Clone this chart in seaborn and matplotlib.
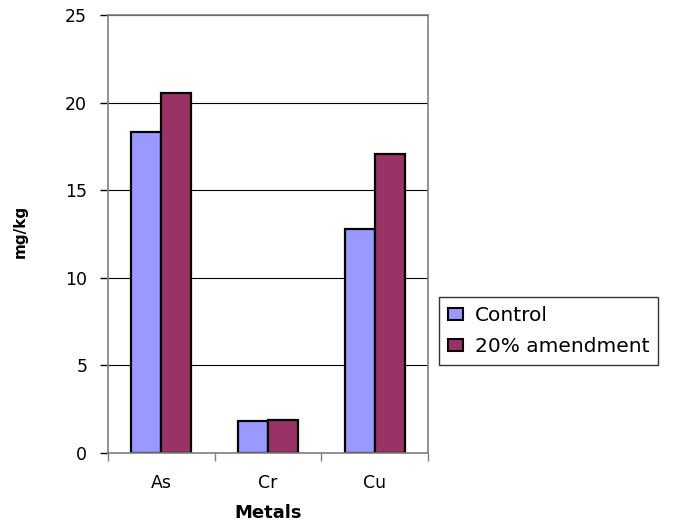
import pandas as pd
import numpy as np
import matplotlib
matplotlib.use("Agg")
import matplotlib.pyplot as plt
import seaborn as sns

# values (mg/kg)
metals = ["As", "Cr", "Cu"]
control = [18.3, 1.8, 12.8]
amended = [20.55, 1.9, 17.05]
series_names = ["Control", "20% amendment"]

df = pd.DataFrame({
    "Metals": metals * 2,
    "mg/kg": control + amended,
    "Treatment": [series_names[0]] * 3 + [series_names[1]] * 3,
})

sns.set_style("white")
plt.rcParams["font.family"] = ["DejaVu Sans"]
plt.rcParams["text.color"] = "black"
plt.rcParams["xtick.labelcolor"] = "black"
plt.rcParams["ytick.labelcolor"] = "black"
plt.rcParams["axes.labelcolor"] = "black"

fig = plt.figure(figsize=(6.85, 5.27), dpi=100)
ax = fig.add_axes([0.1577, 0.1404, 0.467, 0.8311])

sns.barplot(data=df, x="Metals", y="mg/kg", hue="Treatment",
            palette=["#9999FF", "#993366"], width=0.5625, gap=0,
            edgecolor="black", linewidth=1.6, saturation=1, ax=ax)

ax.set_ylim(0, 25)
ax.set_xlim(-0.5, 2.5)
ax.set_yticks(np.arange(0, 26, 5))
ax.yaxis.grid(True, color="black", linewidth=0.8)
ax.set_axisbelow(True)

# x ticks sit on category boundaries, labels centred under the groups
ax.set_xticks([-0.5, 0.5, 1.5, 2.5], minor=False)
ax.set_xticklabels([])
ax.set_xticks([0, 1, 2], minor=True)
ax.set_xticklabels(metals, minor=True)
ax.tick_params(axis="x", which="minor", length=0, pad=15, labelsize=12.5, labelcolor="black")
ax.tick_params(axis="x", which="major", length=6, width=1, color="#808080", direction="out")
ax.tick_params(axis="y", length=6, width=1, color="black", direction="out", labelsize=12.5,
               pad=9, labelcolor="black")
ax.tick_params(bottom=True, left=True)

for s in ax.spines.values():
    s.set_color("#808080")
    s.set_linewidth(1.2)

ax.set_xlabel("Metals", fontsize=13, fontweight="bold", labelpad=9, color="black")
ax.set_ylabel("mg/kg", fontsize=11, fontweight="bold", color="black")
ax.yaxis.set_label_coords(-0.25, 0.507)

leg = ax.legend(loc="center left", bbox_to_anchor=(0.641, 0.372), bbox_transform=fig.transFigure,
                fontsize=14.5, frameon=True, fancybox=False, edgecolor="black",
                handlelength=0.72, handleheight=0.5, handletextpad=0.6,
                borderpad=0.45, labelspacing=0.6, borderaxespad=0)
leg.get_frame().set_linewidth(1)
for h in leg.legend_handles:
    h.set_linewidth(1.5)

fig.savefig("out.png", dpi=100)
